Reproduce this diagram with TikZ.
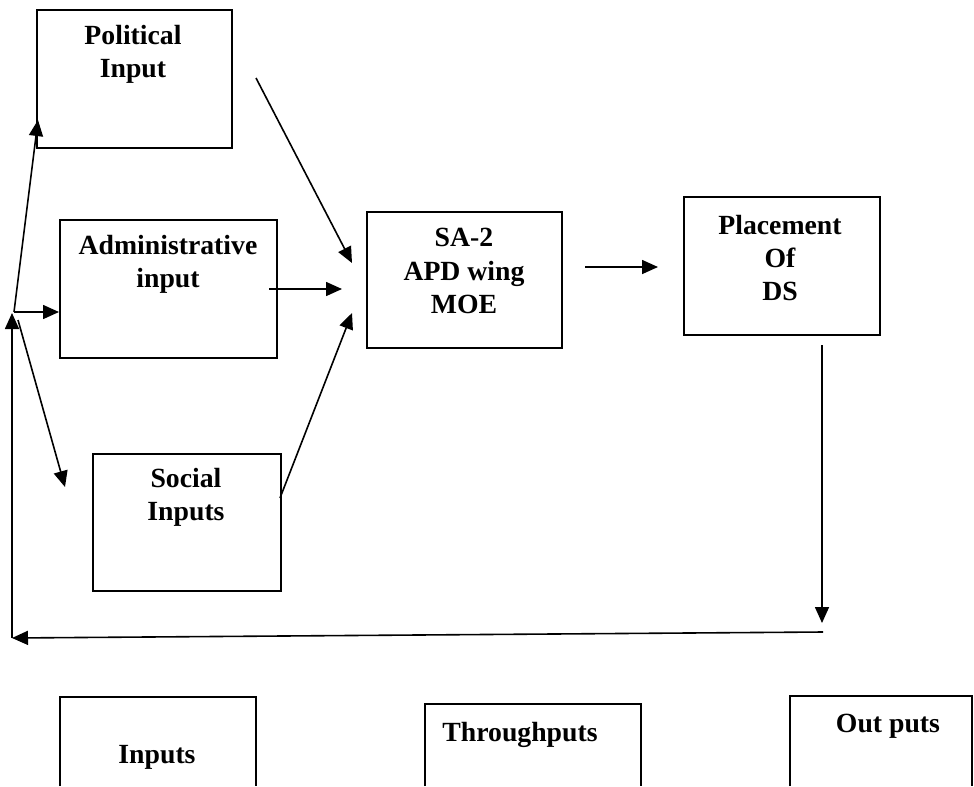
\documentclass[tikz,border=0pt]{standalone}
\usepackage{fontspec}
\setmainfont{Liberation Serif}
\usetikzlibrary{arrows.meta}
\begin{document}
\begin{tikzpicture}[x=0.75pt,y=-0.75pt,
  boxline/.style={draw=black,line width=1.5pt},
  lbl/.style={align=center,inner sep=0pt,font=\bfseries\fontsize{20.8}{24.8}\selectfont},
  arr/.style={line width=1.2pt,-{Triangle[length=12pt,width=10.5pt]}}]
\useasboundingbox[fill=white] (0,0) rectangle (974,786);
% boxes
\node[boxline,anchor=north west,minimum width=195*0.75pt,minimum height=138*0.75pt,inner sep=0pt] (pol) at (36,9) {};
\node[boxline,anchor=north west,minimum width=217*0.75pt,minimum height=138*0.75pt,inner sep=0pt] (adm) at (59,219) {};
\node[boxline,anchor=north west,minimum width=188*0.75pt,minimum height=137*0.75pt,inner sep=0pt] (soc) at (92,453) {};
\node[boxline,anchor=north west,minimum width=195*0.75pt,minimum height=136*0.75pt,inner sep=0pt] (sa) at (366,211) {};
\node[boxline,anchor=north west,minimum width=196*0.75pt,minimum height=138*0.75pt,inner sep=0pt] (pla) at (683,196) {};
% labels
\node[lbl] (polt) at (133,54) {Political\\Input};
\node[lbl] (admt) at (168,264) {Administrative\\input};
\node[lbl] (soct) at (186,497) {Social\\Inputs};
\node[lbl] (sat) at (464,271) {SA-2\\APD wing\\MOE};
\node[lbl] (plat) at (780,258) {Placement\\Of\\DS};
% bottom open boxes
\draw[boxline] (60,786) -- (60,697) -- (256,697) -- (256,786);
\draw[boxline] (425,786) -- (425,704) -- (641,704) -- (641,786);
\draw[boxline] (790,786) -- (790,696) -- (972,696) -- (972,786);
\node[lbl] (inp) at (157,757) {Inputs};
\node[lbl] (thr) at (520,735) {Throughputs};
\node[lbl] (outp) at (888,726) {Out puts};
% coordinates
\coordinate (polS) at (256,78);
\coordinate (saA) at (352,263);
\coordinate (admS) at (269,289);
\coordinate (saB) at (342,289);
\coordinate (socS) at (280,498);
\coordinate (saC) at (352,313);
\coordinate (saS) at (585,267);
\coordinate (plaE) at (658,267);
\coordinate (plaS) at (822,345);
\coordinate (plaT) at (822,623);
\coordinate (fbR) at (823,632);
\coordinate (fbL) at (12,638);
\coordinate (jn) at (12,313);
\coordinate (jnA) at (14,312);
\coordinate (admL) at (59,312);
\coordinate (polL) at (38,120);
\coordinate (jnB) at (18,320);
\coordinate (socL) at (65,487);
% connectors
\draw[arr] (polS) -- (saA);
\draw[arr] (admS) -- (saB);
\draw[arr] (socS) -- (saC);
\draw[arr] (saS) -- (plaE);
\draw[arr] (plaS) -- (plaT);
\draw[arr] (fbR) -- (fbL);
\draw[arr] (fbL) -- (jn);
\draw[arr] (jnA) -- (admL);
\draw[arr] (jnA) -- (polL);
\draw[arr] (jnB) -- (socL);
\end{tikzpicture}
\end{document}
